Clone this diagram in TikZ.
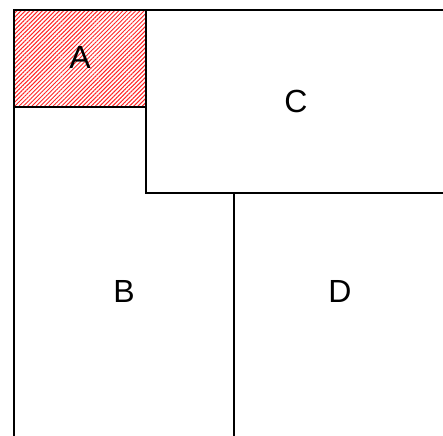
\documentclass[tikz,border=0pt]{standalone}
\usepackage{fontspec}
\setmainfont{Liberation Sans}
\usetikzlibrary{patterns.meta}
\tikzset{
  edge/.style={line width=2pt, line cap=rect},
  lbl/.style={font=\fontsize{32}{38}\selectfont, inner sep=0pt},
  hatch/.style={pattern={Lines[angle=45,distance=3pt,line width=1pt]}, pattern color=red!85!white}
}
\begin{document}
\begin{tikzpicture}[x=1pt,y=-1pt]
\useasboundingbox (0,0) rectangle (443,435);
\fill[white] (0,0) rectangle (443,435);
\fill[hatch] (14,10) rectangle (146,107);
\draw[edge] (443,10) -- (14,10) -- (14,435);
\draw[edge] (14,107) -- (146,107);
\draw[edge] (146,10) -- (146,193) -- (443,193);
\draw[edge] (234,193) -- (234,435);
\node[lbl] (A) at (80,57) {A};
\node[lbl] (C) at (296,101) {C};
\node[lbl] (B) at (124,291) {B};
\node[lbl] (D) at (340,291) {D};
\end{tikzpicture}
\end{document}
